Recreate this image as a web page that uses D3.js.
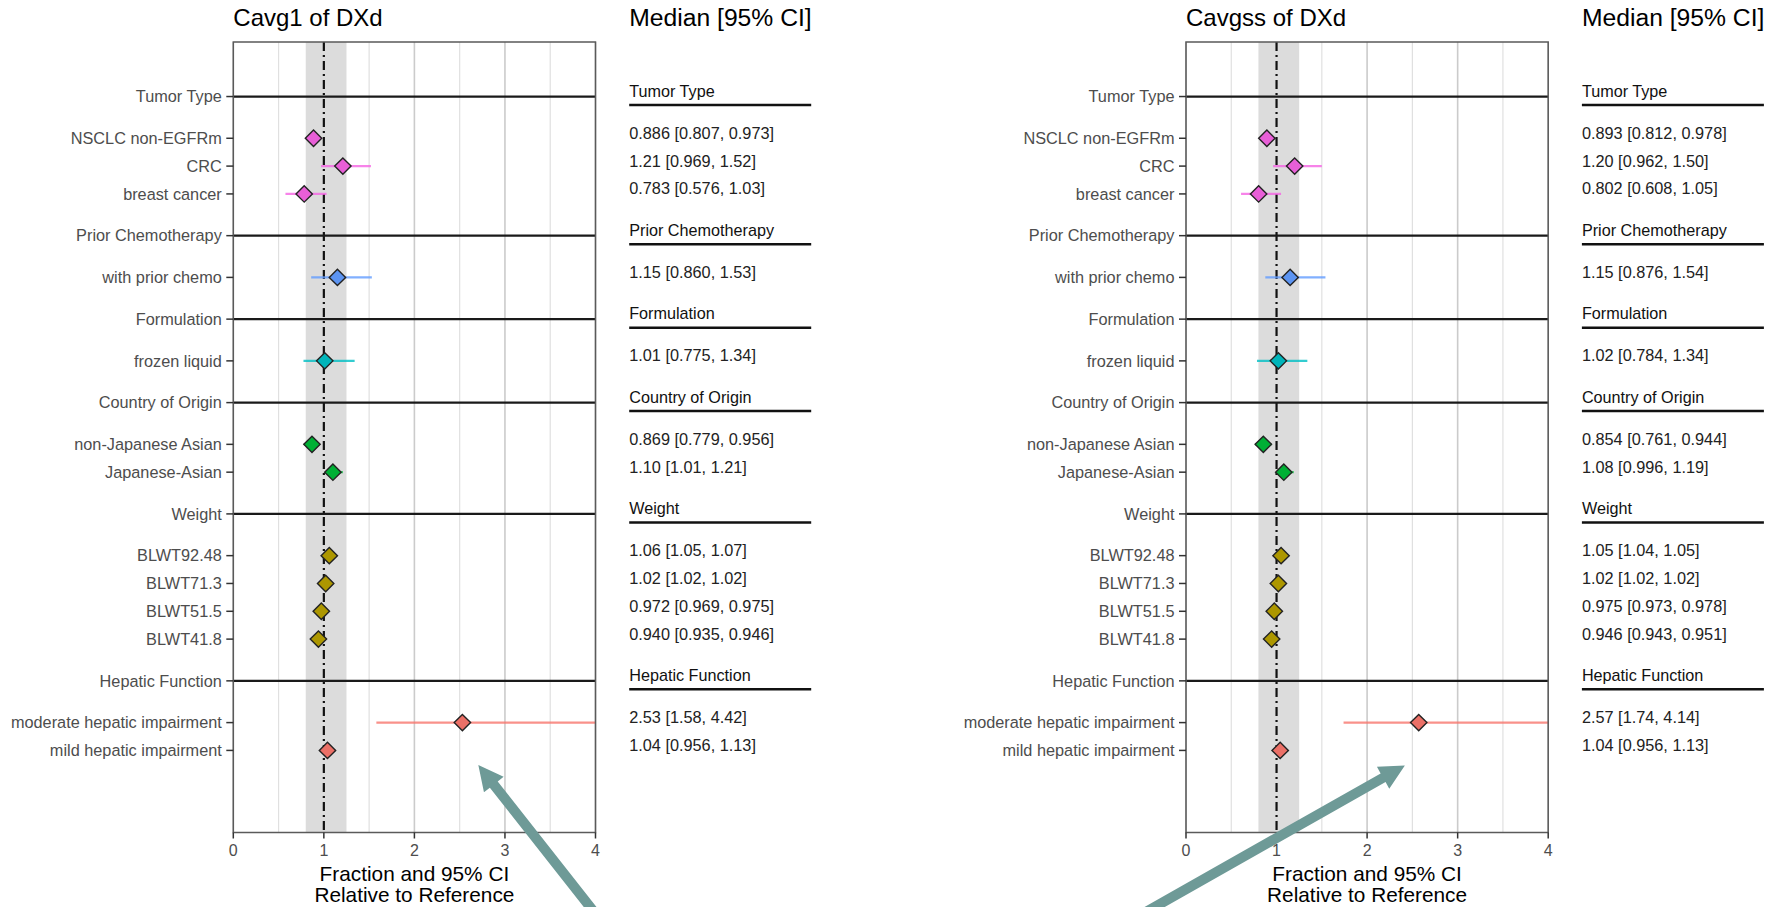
<!DOCTYPE html>
<html>
<head>
<meta charset="utf-8">
<script src="https://cdn.jsdelivr.net/npm/d3@7"></script>
<style>
  body { margin: 0; background: #fff; }
  svg { display: block; }
  text { font-family: "Liberation Sans", Arial, Helvetica, sans-serif; }
</style>
</head>
<body>
<svg id="chart" width="1781" height="907"></svg>
<script>
// Covariate groups and their colours
const groupNames = ["Tumor Type", "Prior Chemotherapy", "Formulation", "Country of Origin", "Weight", "Hepatic Function"];
const groupColors = ["#F564E3", "#619CFF", "#00BFC4", "#00BA38", "#B79F00", "#F8766D"];

// Covariate levels (top to bottom) and the group each belongs to
const rowLabels = ["NSCLC non-EGFRm", "CRC", "breast cancer", "with prior chemo", "frozen liquid",
  "non-Japanese Asian", "Japanese-Asian", "BLWT92.48", "BLWT71.3", "BLWT51.5", "BLWT41.8",
  "moderate hepatic impairment", "mild hepatic impairment"];
const rowGroup = [0, 0, 0, 1, 2, 3, 3, 4, 4, 4, 4, 5, 5];

// Cavg1 of DXd: ratio to reference, median and 95% CI
const cavg1Median = [0.886, 1.21, 0.783, 1.15, 1.01, 0.869, 1.10, 1.06, 1.02, 0.972, 0.940, 2.53, 1.04];
const cavg1Lower  = [0.807, 0.969, 0.576, 0.860, 0.775, 0.779, 1.01, 1.05, 1.02, 0.969, 0.935, 1.58, 0.956];
const cavg1Upper  = [0.973, 1.52, 1.03, 1.53, 1.34, 0.956, 1.21, 1.07, 1.02, 0.975, 0.946, 4.42, 1.13];

// Cavgss of DXd: ratio to reference, median and 95% CI
const cavgssMedian = [0.893, 1.20, 0.802, 1.15, 1.02, 0.854, 1.08, 1.05, 1.02, 0.975, 0.946, 2.57, 1.04];
const cavgssLower  = [0.812, 0.962, 0.608, 0.876, 0.784, 0.761, 0.996, 1.04, 1.02, 0.973, 0.943, 1.74, 0.956];
const cavgssUpper  = [0.978, 1.50, 1.05, 1.54, 1.34, 0.944, 1.19, 1.05, 1.02, 0.978, 0.951, 4.14, 1.13];

// Axis ticks, grid and reference band
const xTicks = [0, 1, 2, 3, 4];
const xGridMinor = [0.5, 1.5, 2.5, 3.5];
const refLine = 1;
const refBand = [0.8, 1.25];

// Annotation arrows (data coordinates: x value, row position)
const arrowTips  = [[2.706, 24.02], [2.417, 24.04]];
const arrowTails = [[3.939, 29.12], [-0.342, 29.12]];

const panels = [
  { title: "Cavg1 of DXd", left: 233.3, med: cavg1Median, lo: cavg1Lower, hi: cavg1Upper },
  { title: "Cavgss of DXd", left: 1186, med: cavgssMedian, lo: cavgssLower, hi: cavgssUpper }
];

const panelW = 362.2, panelTop = 42, panelBottom = 832.5, tableGap = 33.7, tableW = 182;
const fmt = d3.format(".3r");

// Row layout: headers and their levels
const rows = [];
let pos = 0;
groupNames.forEach((g, gi) => {
  if (gi > 0) pos += 1.5;
  rows.push({ kind: "header", label: g, group: gi, pos });
  let first = true;
  rowLabels.forEach((lab, i) => {
    if (rowGroup[i] !== gi) return;
    pos += first ? 1.5 : 1;
    first = false;
    rows.push({ kind: "item", label: lab, group: gi, index: i, pos });
  });
});
const headers = rows.filter(r => r.kind === "header");
const items = rows.filter(r => r.kind === "item");

const y = d3.scaleLinear().domain([-1.96, 26.45]).range([panelTop, panelBottom]);
const svg = d3.select("#chart");
const defs = svg.append("defs");

panels.forEach((p, pi) => {
  const x = d3.scaleLinear().domain([0, 4]).range([p.left, p.left + panelW]);
  const g = svg.append("g");
  const clipId = "clip" + pi;
  defs.append("clipPath").attr("id", clipId).append("rect")
    .attr("x", p.left).attr("y", panelTop).attr("width", panelW).attr("height", panelBottom - panelTop);

  // Title
  g.append("text").attr("x", p.left).attr("y", 26).attr("font-size", 24).attr("fill", "#000").text(p.title);

  // Grid
  g.selectAll(".gminor").data(xGridMinor).join("line")
    .attr("x1", d => x(d)).attr("x2", d => x(d)).attr("y1", panelTop).attr("y2", panelBottom)
    .attr("stroke", "#e0e0e0").attr("stroke-width", 1.2);
  g.selectAll(".gmajor").data(xTicks).join("line")
    .attr("x1", d => x(d)).attr("x2", d => x(d)).attr("y1", panelTop).attr("y2", panelBottom)
    .attr("stroke", "#cbcbcb").attr("stroke-width", 1.6);

  // Reference band and line
  g.append("rect").attr("x", x(refBand[0])).attr("width", x(refBand[1]) - x(refBand[0]))
    .attr("y", panelTop).attr("height", panelBottom - panelTop).attr("fill", "#dcdcdc");
  g.append("line").attr("x1", x(refLine)).attr("x2", x(refLine)).attr("y1", panelTop).attr("y2", panelBottom)
    .attr("stroke", "#111").attr("stroke-width", 2.2).attr("stroke-dasharray", "9,4,2,4");

  // Group header lines
  g.selectAll(".hline").data(headers).join("line")
    .attr("x1", p.left).attr("x2", p.left + panelW).attr("y1", d => y(d.pos)).attr("y2", d => y(d.pos))
    .attr("stroke", "#1a1a1a").attr("stroke-width", 2.2);

  // Confidence intervals
  g.append("g").attr("clip-path", `url(#${clipId})`).selectAll("line").data(items).join("line")
    .attr("x1", d => x(p.lo[d.index])).attr("x2", d => x(p.hi[d.index]))
    .attr("y1", d => y(d.pos)).attr("y2", d => y(d.pos))
    .attr("stroke", d => groupColors[d.group]).attr("stroke-opacity", 0.8).attr("stroke-width", 2.2);

  // Median diamonds
  const r = 8.2;
  g.selectAll(".pt").data(items).join("path")
    .attr("d", d => {
      const cx = x(p.med[d.index]), cy = y(d.pos);
      return `M${cx},${cy - r}L${cx + r},${cy}L${cx},${cy + r}L${cx - r},${cy}Z`;
    })
    .attr("fill", d => d3.color(groupColors[d.group]).darker(0.15)).attr("stroke", "#222").attr("stroke-width", 1.4);

  // Panel border
  g.append("rect").attr("x", p.left).attr("y", panelTop).attr("width", panelW).attr("height", panelBottom - panelTop)
    .attr("fill", "none").attr("stroke", "#5a5a5a").attr("stroke-width", 1.5);

  // Y axis
  const yAxis = g.append("g");
  yAxis.selectAll("line").data(rows).join("line")
    .attr("x1", p.left - 7).attr("x2", p.left).attr("y1", d => y(d.pos)).attr("y2", d => y(d.pos))
    .attr("stroke", "#333").attr("stroke-width", 1.5);
  yAxis.selectAll("text").data(rows).join("text")
    .attr("x", p.left - 11.5).attr("y", d => y(d.pos)).attr("dy", "0.35em")
    .attr("text-anchor", "end").attr("font-size", 16.3).attr("fill", "#4d4d4d").text(d => d.label);

  // X axis
  const xAxis = g.append("g");
  xAxis.selectAll("line").data(xTicks).join("line")
    .attr("x1", d => x(d)).attr("x2", d => x(d)).attr("y1", panelBottom).attr("y2", panelBottom + 6)
    .attr("stroke", "#333").attr("stroke-width", 1.5);
  xAxis.selectAll("text").data(xTicks).join("text")
    .attr("x", d => x(d)).attr("y", 850).attr("dy", "0.35em").attr("text-anchor", "middle")
    .attr("font-size", 16).attr("fill", "#4d4d4d").text(d => d);
  const cx = p.left + panelW / 2;
  g.append("text").attr("x", cx).attr("y", 873.3).attr("dy", "0.35em").attr("text-anchor", "middle")
    .attr("font-size", 20.8).attr("fill", "#000").text("Fraction and 95% CI");
  g.append("text").attr("x", cx).attr("y", 895).attr("dy", "0.35em").attr("text-anchor", "middle")
    .attr("font-size", 20.8).attr("fill", "#000").text("Relative to Reference");

  // Median [95% CI] table
  const tx = p.left + panelW + tableGap;
  const t = g.append("g");
  t.append("text").attr("x", tx).attr("y", 26).attr("font-size", 24.7).attr("fill", "#000").text("Median [95% CI]");
  t.selectAll(".th").data(headers).join("text")
    .attr("x", tx).attr("y", d => y(d.pos) - 5.5).attr("dy", "0.35em")
    .attr("font-size", 16.2).attr("fill", "#111").text(d => d.label);
  t.selectAll(".tl").data(headers).join("line")
    .attr("x1", tx).attr("x2", tx + tableW).attr("y1", d => y(d.pos) + 8.5).attr("y2", d => y(d.pos) + 8.5)
    .attr("stroke", "#111").attr("stroke-width", 2.5);
  t.selectAll(".tv").data(items).join("text")
    .attr("x", tx).attr("y", d => y(d.pos) - 5.2).attr("dy", "0.35em")
    .attr("font-size", 16.3).attr("fill", "#222")
    .text(d => `${fmt(p.med[d.index])} [${fmt(p.lo[d.index])}, ${fmt(p.hi[d.index])}]`);

  // Annotation arrow pointing at the hepatic impairment estimates
  const tip = [x(arrowTips[pi][0]), y(arrowTips[pi][1])];
  const tl = [x(arrowTails[pi][0]), y(arrowTails[pi][1])];
  const tail = [tip[0] + (tl[0] - tip[0]) * 1.3, tip[1] + (tl[1] - tip[1]) * 1.3];
  const len = Math.hypot(tip[0] - tail[0], tip[1] - tail[1]);
  const u = [(tip[0] - tail[0]) / len, (tip[1] - tail[1]) / len];
  const n = [-u[1], u[0]];
  const sw = 5, hl = 25, hw = 12.5;
  const neck = [tip[0] - u[0] * hl, tip[1] - u[1] * hl];
  const pts = [
    [tail[0] + n[0] * sw, tail[1] + n[1] * sw],
    [neck[0] + n[0] * sw, neck[1] + n[1] * sw],
    [neck[0] + n[0] * hw, neck[1] + n[1] * hw],
    tip,
    [neck[0] - n[0] * hw, neck[1] - n[1] * hw],
    [neck[0] - n[0] * sw, neck[1] - n[1] * sw],
    [tail[0] - n[0] * sw, tail[1] - n[1] * sw]
  ];
  svg.append("path").attr("d", "M" + pts.map(q => q.join(",")).join("L") + "Z").attr("fill", "#6E9A97");
});
</script>
</body>
</html>
